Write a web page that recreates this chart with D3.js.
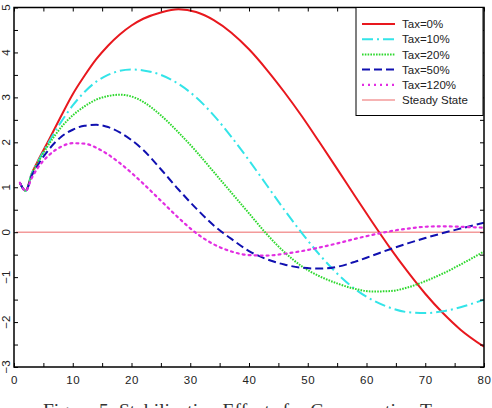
<!DOCTYPE html>
<html>
<head>
<meta charset="utf-8">
<script src="https://cdn.jsdelivr.net/npm/d3@7"></script>
<style>
  html, body { margin: 0; padding: 0; background: #ffffff; }
  svg { display: block; }
</style>
</head>
<body>
<div id="chart"></div>
<script>
// periods (x) shared by all series
const periods = [1, 2, 3, 4, 6, 8, 10, 12, 14, 16, 18, 20, 22, 25, 28, 31, 34, 37, 40, 43, 46, 49, 52, 55, 58, 61, 64, 67, 70, 73, 76, 80];

const tax0   = [1.1, 0.92, 1.3, 1.57, 2.07, 2.58, 3.07, 3.48, 3.85, 4.15, 4.4, 4.6, 4.75, 4.89, 4.96, 4.9, 4.72, 4.44, 4.07, 3.62, 3.12, 2.58, 2.0, 1.41, 0.81, 0.22, -0.35, -0.88, -1.37, -1.8, -2.17, -2.55];
const tax10  = [1.1, 0.92, 1.3, 1.55, 2.02, 2.45, 2.82, 3.12, 3.35, 3.5, 3.59, 3.62, 3.6, 3.5, 3.3, 3.0, 2.6, 2.12, 1.6, 1.05, 0.5, -0.02, -0.5, -0.92, -1.26, -1.51, -1.68, -1.78, -1.8, -1.76, -1.67, -1.5];
const tax20  = [1.1, 0.92, 1.28, 1.53, 1.97, 2.33, 2.6, 2.8, 2.95, 3.03, 3.06, 3.02, 2.9, 2.6, 2.22, 1.8, 1.34, 0.88, 0.42, -0.04, -0.44, -0.76, -0.98, -1.14, -1.26, -1.32, -1.31, -1.23, -1.09, -0.92, -0.72, -0.43];
const tax50  = [1.1, 0.92, 1.25, 1.48, 1.85, 2.12, 2.28, 2.37, 2.39, 2.34, 2.22, 2.05, 1.83, 1.4, 0.95, 0.53, 0.15, -0.15, -0.42, -0.6, -0.72, -0.79, -0.81, -0.77, -0.66, -0.52, -0.38, -0.25, -0.13, -0.02, 0.08, 0.21];
const tax120 = [1.1, 0.92, 1.2, 1.42, 1.72, 1.9, 1.98, 1.97, 1.88, 1.73, 1.54, 1.32, 1.08, 0.7, 0.32, -0.02, -0.27, -0.43, -0.51, -0.52, -0.48, -0.42, -0.34, -0.25, -0.15, -0.06, 0.02, 0.08, 0.12, 0.13, 0.12, 0.1];
const steadyState = 0;

const seriesNames = ["Tax=0%", "Tax=10%", "Tax=20%", "Tax=50%", "Tax=120%"];
const seriesValues = [tax0, tax10, tax20, tax50, tax120];
const steadyLabel = "Steady State";

const xTicks = [0, 10, 20, 30, 40, 50, 60, 70, 80];
const yTicks = [-3, -2, -1, 0, 1, 2, 3, 4, 5];
const caption = "Figure 5: Stabilization Effects for Consumption Tax";

(function() {
  const width = 492;
  const height = 408;
  const plot = { left: 14, right: 484, top: 7.5, bottom: 367 };

  const styles = [
    { color: "#e8181e", dash: null,          w: 2 },
    { color: "#33e4e8", dash: "11,4,2,4",    w: 2 },
    { color: "#2ed82e", dash: "1.6,1.2",     w: 2 },
    { color: "#1010b0", dash: "8,4",         w: 2 },
    { color: "#e22ee2", dash: "2,4",         w: 2.2 }
  ];

  const svg = d3.select("#chart")
    .append("svg")
    .attr("width", width)
    .attr("height", height)
    .style("font-family", "'Liberation Sans', Arial, sans-serif");

  const x = d3.scaleLinear().domain([0, 80]).range([plot.left, plot.right]);
  const y = d3.scaleLinear().domain([-3, 5]).range([plot.bottom, plot.top]);

  svg.append("defs").append("clipPath").attr("id", "clip")
    .append("rect")
    .attr("x", plot.left).attr("y", plot.top)
    .attr("width", plot.right - plot.left).attr("height", plot.bottom - plot.top);

  // steady state line
  svg.append("line")
    .attr("x1", x(0) + 2).attr("x2", x(80))
    .attr("y1", y(steadyState)).attr("y2", y(steadyState))
    .attr("stroke", "#f39a9a")
    .attr("stroke-width", 1.5);

  const line = d3.line()
    .x((d, i) => x(periods[i]))
    .y(d => y(d))
    .curve(d3.curveMonotoneX);

  const lines = svg.append("g").attr("clip-path", "url(#clip)");
  seriesValues.forEach((vals, i) => {
    lines.append("path")
      .datum(vals)
      .attr("d", line)
      .attr("fill", "none")
      .attr("stroke", styles[i].color)
      .attr("stroke-width", styles[i].w)
      .attr("stroke-dasharray", styles[i].dash)
      .attr("stroke-linecap", i === 4 ? "round" : "butt");
  });

  // axes with inward ticks
  const xMinor = d3.range(0, 81, 5);
  const yMinor = d3.range(-3, 5.01, 0.5);

  const fmtX = d => xTicks.includes(d) ? d : "";
  const fmtY = d => yTicks.includes(d) ? d3.format("d")(d) : "";

  const gx = svg.append("g")
    .attr("transform", `translate(0,${plot.bottom})`)
    .call(d3.axisBottom(x).tickValues(xMinor).tickFormat(fmtX).tickSize(-4).tickPadding(9));
  gx.select(".domain").remove();
  gx.selectAll("text").style("font-size", "11.5px").style("letter-spacing", "0.6px").attr("fill", "#222");

  const gxTop = svg.append("g")
    .attr("transform", `translate(0,${plot.top})`)
    .call(d3.axisTop(x).tickValues(xMinor).tickFormat("").tickSize(-4));
  gxTop.select(".domain").remove();

  const gy = svg.append("g")
    .attr("transform", `translate(${plot.left},0)`)
    .call(d3.axisLeft(y).tickValues(yMinor).tickFormat("").tickSize(-4));
  gy.select(".domain").remove();

  const gyR = svg.append("g")
    .attr("transform", `translate(${plot.right},0)`)
    .call(d3.axisRight(y).tickValues(yMinor).tickFormat("").tickSize(-4));
  gyR.select(".domain").remove();

  svg.selectAll(".tick line").attr("stroke", "#000").attr("stroke-width", 1);

  // rotated y labels
  svg.append("g").selectAll("text")
    .data(yMinor.filter(d => yTicks.includes(d)))
    .join("text")
    .attr("transform", d => `translate(10,${y(d)}) rotate(-90)`)
    .attr("text-anchor", "middle")
    .style("font-size", "11.5px")
    .attr("fill", "#222")
    .text(fmtY);

  // frame
  svg.append("rect")
    .attr("x", plot.left).attr("y", plot.top)
    .attr("width", plot.right - plot.left).attr("height", plot.bottom - plot.top)
    .attr("fill", "none")
    .attr("stroke", "#000")
    .attr("stroke-width", 1.5);

  // legend
  const lg = svg.append("g");
  lg.append("rect")
    .attr("x", 356).attr("y", plot.top)
    .attr("width", 127).attr("height", 108)
    .attr("fill", "#fff")
    .attr("stroke", "#000")
    .attr("stroke-width", 1);

  const entries = seriesNames.map((n, i) => ({ name: n, style: styles[i] }))
    .concat([{ name: steadyLabel, style: { color: "#f39a9a", dash: null, w: 1.5 } }]);

  entries.forEach((e, i) => {
    const yy = 24 + i * 15.2;
    lg.append("line")
      .attr("x1", 362).attr("x2", 395)
      .attr("y1", yy).attr("y2", yy)
      .attr("stroke", e.style.color)
      .attr("stroke-width", e.style.w)
      .attr("stroke-dasharray", e.style.dash);
    lg.append("text")
      .attr("x", 402).attr("y", yy)
      .attr("dy", "0.36em")
      .style("font-size", "11.5px")
      .attr("fill", "#222")
      .text(e.name);
  });

  // caption (cut off by window, as in the source)
  svg.append("text")
    .attr("x", 246).attr("y", 417)
    .attr("text-anchor", "middle")
    .attr("textLength", 406)
    .attr("lengthAdjust", "spacingAndGlyphs")
    .style("font-family", "'Liberation Serif', 'Times New Roman', serif")
    .style("font-size", "19px")
    .attr("fill", "#333")
    .text(caption);
})();
</script>
</body>
</html>
